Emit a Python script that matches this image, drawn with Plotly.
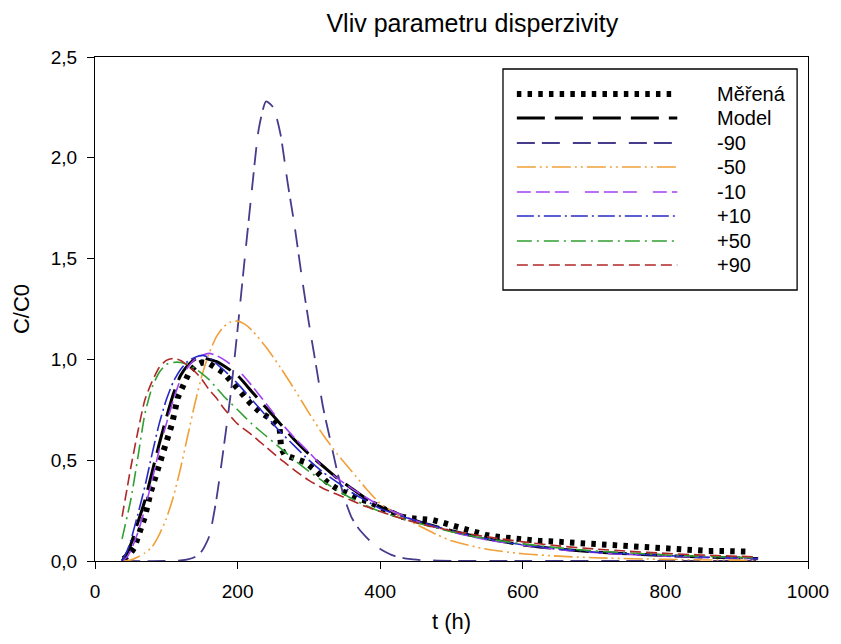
import plotly.graph_objects as go

# ---------------- data ----------------
t_meas = [40, 48, 55, 62, 70, 78, 85, 92, 100, 108, 116, 124, 132, 141, 150, 160, 170, 180, 194, 206,
          218, 231, 245, 259, 261, 266, 282, 296, 311, 325, 339, 354, 368, 384, 400, 414, 428, 444, 458, 474,
          488, 503, 518, 533, 548, 562, 577, 593, 607, 622, 637, 651, 667, 682, 697, 712, 726, 741, 756, 771,
          786, 801, 815, 830, 845, 860, 875, 890, 905, 919]
c_meas = [0.01, 0.03, 0.065, 0.13, 0.22, 0.34, 0.42, 0.5, 0.59, 0.68, 0.81, 0.88, 0.935, 0.97, 0.985, 0.98, 0.96, 0.935, 0.88, 0.83,
          0.782, 0.74, 0.708, 0.658, 0.56, 0.526, 0.509, 0.488, 0.443, 0.393, 0.36, 0.335, 0.31, 0.294, 0.27, 0.245, 0.22, 0.212, 0.207, 0.203,
          0.19, 0.174, 0.157, 0.14, 0.129, 0.121, 0.114, 0.109, 0.104, 0.1, 0.098, 0.095, 0.089, 0.086, 0.083, 0.078, 0.075, 0.072, 0.07, 0.063,
          0.06, 0.058, 0.055, 0.053, 0.051, 0.05, 0.05, 0.049, 0.048, 0.046]

t_sim = [38, 45, 50, 60, 70, 80, 90, 100, 110, 120, 130, 140, 150, 160, 170, 180, 200, 220, 240, 260,
         280, 300, 320, 340, 360, 380, 400, 450, 500, 550, 600, 650, 700, 750, 800, 850, 930]
c_model = [0, 0.04, 0.08, 0.19, 0.3, 0.44, 0.58, 0.71, 0.83, 0.92, 0.97, 1.0, 1.01, 1.0, 0.99, 0.97, 0.92, 0.84, 0.76, 0.68,
           0.6, 0.53, 0.47, 0.41, 0.36, 0.31, 0.27, 0.2, 0.15, 0.11, 0.08, 0.06, 0.045, 0.035, 0.027, 0.02, 0.012]
c_m10 = [0, 0.02, 0.05, 0.14, 0.26, 0.4, 0.55, 0.68, 0.8, 0.9, 0.96, 1.0, 1.02, 1.03, 1.02, 1.0, 0.95, 0.87, 0.78, 0.69,
         0.61, 0.54, 0.465, 0.41, 0.36, 0.315, 0.275, 0.2, 0.145, 0.105, 0.078, 0.057, 0.042, 0.032, 0.024, 0.018, 0.011]
c_p10 = [0, 0.05, 0.1, 0.23, 0.37, 0.53, 0.68, 0.8, 0.89, 0.95, 0.99, 1.01, 1.02, 1.01, 0.98, 0.95, 0.88, 0.8, 0.72, 0.64,
         0.57, 0.5, 0.44, 0.39, 0.34, 0.3, 0.26, 0.2, 0.15, 0.11, 0.08, 0.06, 0.045, 0.035, 0.027, 0.02, 0.012]
c_p50 = [0.11, 0.22, 0.3, 0.51, 0.73, 0.86, 0.935, 0.975, 0.985, 0.985, 0.975, 0.955, 0.93, 0.9, 0.86, 0.82, 0.75, 0.68, 0.62, 0.56,
         0.5, 0.445, 0.395, 0.35, 0.31, 0.275, 0.245, 0.19, 0.145, 0.11, 0.085, 0.065, 0.05, 0.04, 0.03, 0.024, 0.015]
c_p90 = [0.22, 0.36, 0.46, 0.64, 0.8, 0.89, 0.96, 0.995, 1.005, 0.995, 0.97, 0.94, 0.9, 0.85, 0.81, 0.76, 0.68, 0.625, 0.565, 0.505,
         0.45, 0.4, 0.36, 0.33, 0.3, 0.27, 0.245, 0.19, 0.15, 0.12, 0.095, 0.075, 0.06, 0.048, 0.038, 0.03, 0.02]

t_m50 = [38, 50, 60, 70, 80, 90, 100, 110, 120, 130, 140, 150, 160, 170, 180, 190, 200, 210, 220, 240,
         260, 280, 300, 320, 340, 360, 380, 400, 420, 440, 460, 480, 500, 550, 600, 650, 700, 800, 930]
c_m50 = [0, 0.005, 0.02, 0.04, 0.07, 0.13, 0.21, 0.32, 0.46, 0.62, 0.78, 0.92, 1.03, 1.11, 1.16, 1.185, 1.19, 1.175, 1.145, 1.06,
         0.96, 0.85, 0.735, 0.625, 0.53, 0.445, 0.36, 0.285, 0.24, 0.2, 0.165, 0.13, 0.1, 0.058, 0.036, 0.024, 0.016, 0.008, 0.003]

t_m90 = [38, 100, 120, 130, 140, 150, 160, 170, 180, 190, 200, 210, 220, 230, 240, 250, 260, 270, 280, 290,
         300, 310, 320, 330, 340, 350, 360, 370, 380, 390, 400, 420, 440, 460, 500, 600, 700, 800, 930]
c_m90 = [0, 0, 0.003, 0.008, 0.02, 0.05, 0.12, 0.3, 0.55, 0.82, 1.15, 1.5, 1.84, 2.15, 2.28, 2.25, 2.12, 1.88, 1.66, 1.41,
         1.18, 0.97, 0.76, 0.6, 0.44, 0.31, 0.215, 0.16, 0.12, 0.085, 0.06, 0.025, 0.01, 0.004, 0.001, 0, 0, 0, 0]

x_ticks = [0, 200, 400, 600, 800, 1000]
y_ticks = [0.0, 0.5, 1.0, 1.5, 2.0, 2.5]

# ---------------- styles ----------------
FONT = "Liberation Sans, Arial, sans-serif"
series = [
    # name, x, y, color, width, dash, shape
    ("Měřená", t_meas, c_meas, "#000000", 6, "4.5px,6.2px", "linear"),
    ("Model", t_sim, c_model, "#000000", 3, "28px,10px", "spline"),
    ("-90", t_m90, c_m90, "#463C8C", 1.8, "18px,7px,18px,13px", "spline"),
    ("-50", t_m50, c_m50, "#F0A038", 1.6, "19px,4px,2px,4px,2px,4px", "spline"),
    ("-10", t_sim, c_m10, "#A040F0", 1.6, "14px,5px,14px,5px,14px,16px", "spline"),
    ("+10", t_sim, c_p10, "#2828C8", 1.6, "17px,4px,2px,4px", "spline"),
    ("+50", t_sim, c_p50, "#30A030", 1.6, "15px,5px,2px,5px", "spline"),
    ("+90", t_sim, c_p90, "#B02828", 1.6, "11px,5px", "spline"),
]

fig = go.Figure()
for name, xs, ys, col, w, dash, shp in series:
    fig.add_trace(go.Scatter(
        x=xs, y=ys, mode="lines", name=name, showlegend=False,
        line=dict(color=col, width=w, dash=dash, shape=shp, smoothing=0.6 if shp == "spline" else None),
    ))

# ---------------- custom legend (long line samples like the original) ----------------
L, R, T, B = 95, 815, 57, 561          # plot area in pixels
W, H = R - L, B - T
px = lambda x: (x - L) / W
py = lambda y: (B - y) / H

shapes = [dict(type="rect", xref="paper", yref="paper",
               x0=px(507), x1=px(804), y0=py(290), y1=py(69),
               line=dict(color="#000000", width=1.3), fillcolor="white", layer="above")]
annotations = []
row_y = [94, 118, 143, 167, 192, 216, 241, 265]
for (name, xs, ys, col, w, dash, shp), ry in zip(series, row_y):
    shapes.append(dict(type="line", xref="paper", yref="paper", layer="above",
                       x0=px(521), x1=px(683), y0=py(ry), y1=py(ry),
                       line=dict(color=col, width=w, dash=dash)))
    annotations.append(dict(xref="paper", yref="paper", x=px(721), y=py(ry),
                            xanchor="left", yanchor="middle", showarrow=False,
                            text=name, font=dict(family=FONT, size=20, color="#000000")))

axis_common = dict(
    showline=True, linecolor="#000000", linewidth=1.3, mirror=True,
    ticks="outside", ticklen=7, tickwidth=1.3, tickcolor="#000000",
    showgrid=False, zeroline=False,
    tickfont=dict(family=FONT, size=19, color="#000000"),
)

fig.update_layout(
    width=841, height=644,
    margin=dict(l=L, r=841 - R, t=T, b=644 - B),
    paper_bgcolor="white", plot_bgcolor="white",
    separators=", ",
    title=dict(text="Vliv parametru disperzivity", x=px(476), xref="paper", xanchor="center",
               y=1 - 23 / 644, yanchor="middle",
               font=dict(family=FONT, size=25, color="#000000")),
    xaxis=dict(range=[0, 1000], tickvals=x_ticks, tickformat="d",
               title=dict(text="t (h)", font=dict(family=FONT, size=22, color="#000000"), standoff=12),
               ticklabelstandoff=6, **axis_common),
    yaxis=dict(range=[0, 2.5], tickvals=y_ticks, tickformat=".1f",
               title=dict(text="C/C0", font=dict(family=FONT, size=22, color="#000000"), standoff=14),
               ticklabelstandoff=6, **axis_common),
    shapes=shapes, annotations=annotations,
)

fig.write_html("out.html")
